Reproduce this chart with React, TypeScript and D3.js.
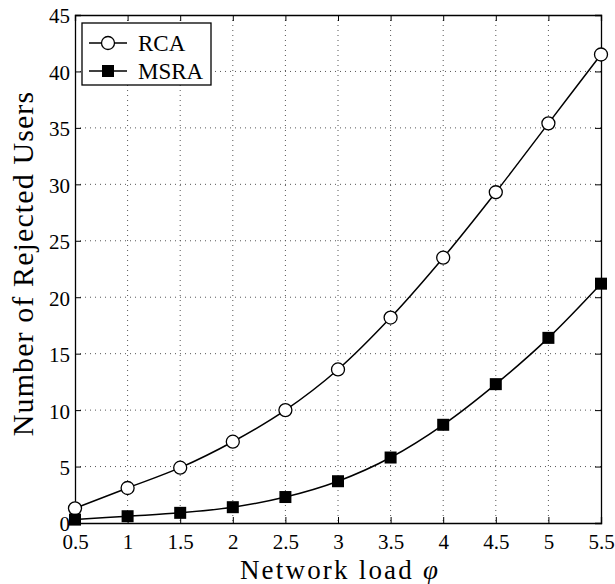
import * as d3 from "d3";
import { useEffect, useRef } from "react";

const loads = [0.5, 1, 1.5, 2, 2.5, 3, 3.5, 4, 4.5, 5, 5.5];
const rca = [1.3, 3.1, 4.9, 7.2, 10.0, 13.6, 18.2, 23.5, 29.3, 35.4, 41.5];
const msra = [0.3, 0.6, 0.9, 1.4, 2.3, 3.7, 5.8, 8.7, 12.3, 16.4, 21.2];
const yTicks = [0, 5, 10, 15, 20, 25, 30, 35, 40, 45];

const App = () => {
  const ref = useRef<SVGSVGElement>(null);

  useEffect(() => {
    const margin = { top: 15, right: 14, bottom: 61, left: 75 },
      width = 615 - margin.left - margin.right,
      height = 584 - margin.top - margin.bottom;
    const font = "'Liberation Serif', 'Times New Roman', serif";

    const root = d3.select(ref.current);
    root.selectAll("*").remove();
    const svg = root
      .append("g")
      .attr("transform", `translate(${margin.left},${margin.top})`);

    const x = d3.scaleLinear().domain([0.5, 5.5]).range([0, width]);
    const y = d3.scaleLinear().domain([0, 45]).range([height, 0]);

    // dotted grid
    const grid = svg.append("g").attr("stroke", "#555").attr("stroke-width", 1)
      .attr("stroke-dasharray", "1,4");
    grid.selectAll("line.v").data(loads.slice(1, -1)).join("line")
      .attr("x1", (d) => x(d)).attr("x2", (d) => x(d))
      .attr("y1", 0).attr("y2", height);
    grid.selectAll("line.h").data(yTicks.slice(1, -1)).join("line")
      .attr("y1", (d) => y(d)).attr("y2", (d) => y(d))
      .attr("x1", 0).attr("x2", width);

    // axes, ticks inward on all sides
    const tl = 6;
    const bottom = svg.append("g").attr("transform", `translate(0,${height})`)
      .call(d3.axisBottom(x).tickValues(loads).tickSize(-tl).tickPadding(11)
        .tickFormat(d3.format("")));
    const top = svg.append("g")
      .call(d3.axisTop(x).tickValues(loads).tickSize(-tl).tickFormat(() => ""));
    const left = svg.append("g")
      .call(d3.axisLeft(y).tickValues(yTicks).tickSize(-tl).tickPadding(5));
    const right = svg.append("g").attr("transform", `translate(${width},0)`)
      .call(d3.axisRight(y).tickValues(yTicks).tickSize(-tl).tickFormat(() => ""));
    [bottom, top, left, right].forEach((g) => {
      g.select(".domain").attr("stroke", "#000").attr("stroke-width", 1.3);
      g.selectAll(".tick line").attr("stroke", "#000");
      g.selectAll("text").attr("font-family", font).attr("font-size", 21)
        .attr("fill", "#000");
    });
    bottom.selectAll("text").attr("dy", "0.71em");
    left.selectAll("text").attr("dy", "0.38em");

    const line = d3.line<number>()
      .x((_, i) => x(loads[i]))
      .y((d) => y(d))
      .curve(d3.curveCatmullRom);

    svg.append("path").datum(rca).attr("d", line).attr("fill", "none")
      .attr("stroke", "#000").attr("stroke-width", 1.5);
    svg.append("path").datum(msra).attr("d", line).attr("fill", "none")
      .attr("stroke", "#000").attr("stroke-width", 1.5);

    svg.selectAll("circle.rca").data(rca).join("circle")
      .attr("cx", (_, i) => x(loads[i])).attr("cy", (d) => y(d)).attr("r", 6.5)
      .attr("fill", "#fff").attr("stroke", "#000").attr("stroke-width", 1.3);
    const s = 12;
    svg.selectAll("rect.msra").data(msra).join("rect")
      .attr("x", (_, i) => x(loads[i]) - s / 2).attr("y", (d) => y(d) - s / 2)
      .attr("width", s).attr("height", s).attr("fill", "#000");

    // legend
    const lg = svg.append("g").attr("transform", "translate(7,8)");
    lg.append("rect").attr("width", 129).attr("height", 62).attr("fill", "#fff")
      .attr("stroke", "#000").attr("stroke-width", 1.3);
    const rows = [
      { label: "RCA", kind: "circle" },
      { label: "MSRA", kind: "square" },
    ];
    rows.forEach((r, i) => {
      const cy = 20 + i * 28;
      lg.append("line").attr("x1", 7).attr("x2", 45).attr("y1", cy).attr("y2", cy)
        .attr("stroke", "#000").attr("stroke-width", 1.5);
      if (r.kind === "circle") {
        lg.append("circle").attr("cx", 26).attr("cy", cy).attr("r", 6.5)
          .attr("fill", "#fff").attr("stroke", "#000").attr("stroke-width", 1.3);
      } else {
        lg.append("rect").attr("x", 26 - s / 2).attr("y", cy - s / 2)
          .attr("width", s).attr("height", s).attr("fill", "#000");
      }
      lg.append("text").attr("x", 56).attr("y", cy).attr("dy", "0.36em")
        .attr("font-family", font).attr("font-size", 23).text(r.label);
    });

    // axis titles
    const xt = svg.append("text").attr("x", width / 2 + 2).attr("y", height + 56)
      .attr("text-anchor", "middle").attr("font-family", font).attr("font-size", 27)
      .attr("letter-spacing", 2.2);
    xt.append("tspan").text("Network load ");
    xt.append("tspan").attr("font-style", "italic").text("φ");
    svg.append("text")
      .attr("transform", `translate(${-42},${248.5}) rotate(-90)`)
      .attr("text-anchor", "middle").attr("font-family", font).attr("font-size", 30)
      .attr("letter-spacing", 1.1)
      .text("Number of Rejected Users");
  }, []);

  return (
    <svg
      ref={ref}
      width={615}
      height={584}
      style={{ position: "absolute", left: 0, top: 0, background: "#fff" }}
    />
  );
};

export default App;
